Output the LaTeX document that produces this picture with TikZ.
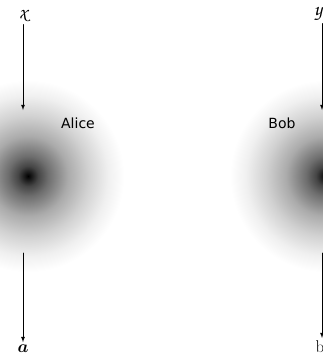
\documentclass[tikz,border=0pt]{standalone}
\usepackage{amsmath,bm}
\usepackage{fontspec}
\newfontfamily\namefont{DejaVu Sans}
\newcommand\chan[1]{{\usefont{T1}{pzc}{m}{it}#1}}
\usetikzlibrary{arrows}

% soft blob, 25bp is the rim of the circle
\pgfdeclareradialshading{blob}{\pgfpoint{0bp}{0bp}}{%
  color(0bp)=(black); color(2.5bp)=(black!73); color(5bp)=(black!57);
  color(10bp)=(black!33); color(15bp)=(black!18); color(20bp)=(black!6);
  color(24bp)=(white); color(50bp)=(white)}

\begin{document}
\begin{tikzpicture}[x=1pt,y=-1pt,line cap=round]
  \useasboundingbox (0,0) rectangle (323,356);
  \clip (0,0) rectangle (323,356);
  \shade[shading=blob] (28,176) circle (100pt);
  \shade[shading=blob] (326,176) circle (100pt);

  \tikzset{lbl/.style={font=\fontsize{17}{20}\selectfont,inner sep=2pt},
           who/.style={font=\namefont\fontsize{14}{16}\selectfont}}
  \node[lbl,font=\fontsize{20}{22}\selectfont] (x) at (23,16) {\chan{x}};
  \node[lbl,font=\fontsize{20}{22}\selectfont] (y) at (318,14) {\chan{y}};
  \node[lbl,anchor=base] (a) at (23,352) {$\bm{a}$};
  \node[lbl,anchor=base] (b) at (320,352) {b};
  \node[who] (alice) at (78,123) {Alice};
  \node[who] (bob) at (282,123) {Bob};

  \coordinate (xend) at (23,110);
  \coordinate (yend) at (322,110);
  \coordinate (astart) at (23,253);
  \coordinate (bstart) at (322,253);
  \draw[line width=.8pt,-latex] (x) -- (xend);
  \draw[line width=.8pt,-latex] (y.south -| yend) -- (yend);
  \draw[line width=.8pt,-latex] (astart) -- (a);
  \draw[line width=.8pt,-latex] (bstart) -- (bstart |- b.north);
\end{tikzpicture}
\end{document}
